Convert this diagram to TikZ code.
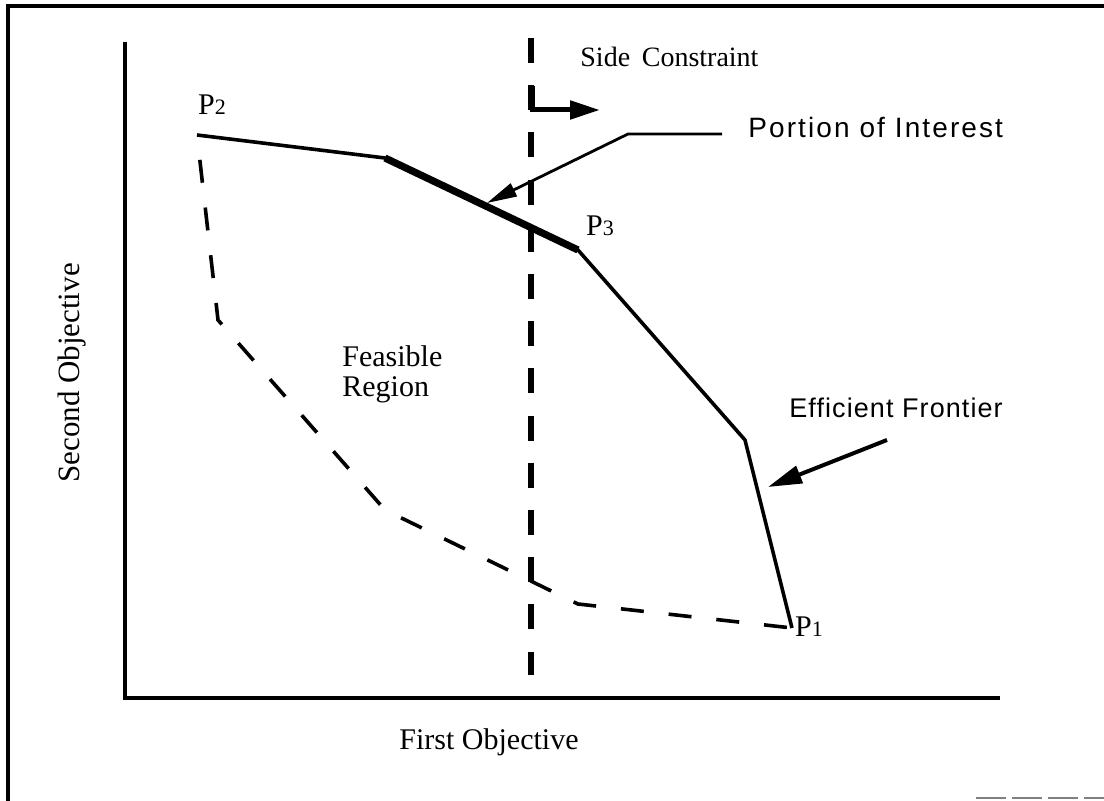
\documentclass[tikz,border=0pt]{standalone}
\usepackage{fontspec}
\setmainfont{Liberation Serif}
\newfontfamily\notefont{Liberation Sans}[LetterSpace=7.5]
\newfontfamily\tightfont{Liberation Sans}[LetterSpace=4]
\usetikzlibrary{positioning, arrows.meta}

\tikzset{
  axis/.style={line width=1.6pt},
  frontier/.style={line width=1.8pt, line join=round},
  portion/.style={line width=3.6pt},
  region/.style={line width=1.8pt, dash pattern=on 11.5pt off 12.5pt, dash phase=11.5pt},
  constraint/.style={line width=3pt, dash pattern=on 12.5pt off 11.1pt},
  pointer/.style={line width=1.4pt, -{Triangle[length=15pt,width=7pt]}},
  serif/.style={font=\fontsize{15}{15}\selectfont, inner sep=0pt},
  note/.style={font=\notefont\fontsize{14}{16}\selectfont, inner sep=0pt},
}
\newcommand{\pnt}[1]{P{\fontsize{11}{11}\selectfont #1}}

\begin{document}
\begin{tikzpicture}[x=0.5pt, y=-0.5pt]
  \useasboundingbox (0,0) rectangle (1104,801);
  \draw[axis] (8,801) -- (8,6) -- (1104,6);
  \draw[gray, line width=1pt, dash pattern=on 15pt off 3pt] (976,798) -- (1104,798);
  \draw[axis] (125,42) -- (125,698) -- (1000,698);

  \coordinate (p2) at (197,135);
  \coordinate (k1) at (385,158);
  \coordinate (p3) at (578,250);
  \coordinate (k2) at (745,440);
  \coordinate (p1) at (792,628);
  \coordinate (r1) at (218,320);
  \coordinate (r2) at (385,510);
  \coordinate (r3) at (578,604);

  \draw[region] (p2) -- (r1) -- (r2) -- (r3) -- (p1);
  \draw[frontier] (p2) -- (k1) -- (p3) -- (k2) -- (p1);
  \draw[portion] (k1) -- (p3);

  \coordinate (ctop) at (531,38);
  \coordinate (cbot) at (531,675);
  \draw[constraint] (ctop) -- (cbot);
  \coordinate (sbend) at (532,110);
  \coordinate (stip) at (600,110);
  \draw[line width=2.5pt, -{Triangle[length=15pt,width=9pt]}] (532,86) -- (sbend) -- (stip);

  \node[serif, font=\fontsize{14}{14}\selectfont, anchor=west] (side) at (580,57) {Side\, Constraint};
  \node[note, anchor=west] (interest) at (748,127) {Portion of Interest};
  \coordinate (ibend) at (628,134);
  \coordinate (itip) at (487,203);
  \draw[pointer] (722,134) -- (ibend) -- (itip);

  \node[note, font=\tightfont\fontsize{13.5}{16}\selectfont, anchor=west] (effic) at (789,408) {Efficient Frontier};
  \coordinate (etail) at (887,440);
  \coordinate (etip) at (768,487);
  \draw[line width=2pt, -{Triangle[length=17pt,width=9pt]}] (etail) -- (etip);

  \node[serif] (lp2) at (212,105) {\pnt{2}};
  \node[serif] (lp3) at (600,226) {\pnt{3}};
  \node[serif] (lp1) at (809,627) {\pnt{1}};
  \node[serif, align=left, anchor=west] (feas) at (342,374) {Feasible\\Region};
  \node[serif] (xlab) at (489,742) {First Objective};
  \node[serif, font=\fontsize{15.5}{15.5}\selectfont, rotate=90] (ylab) at (72,373) {Second Objective};
\end{tikzpicture}
\end{document}
